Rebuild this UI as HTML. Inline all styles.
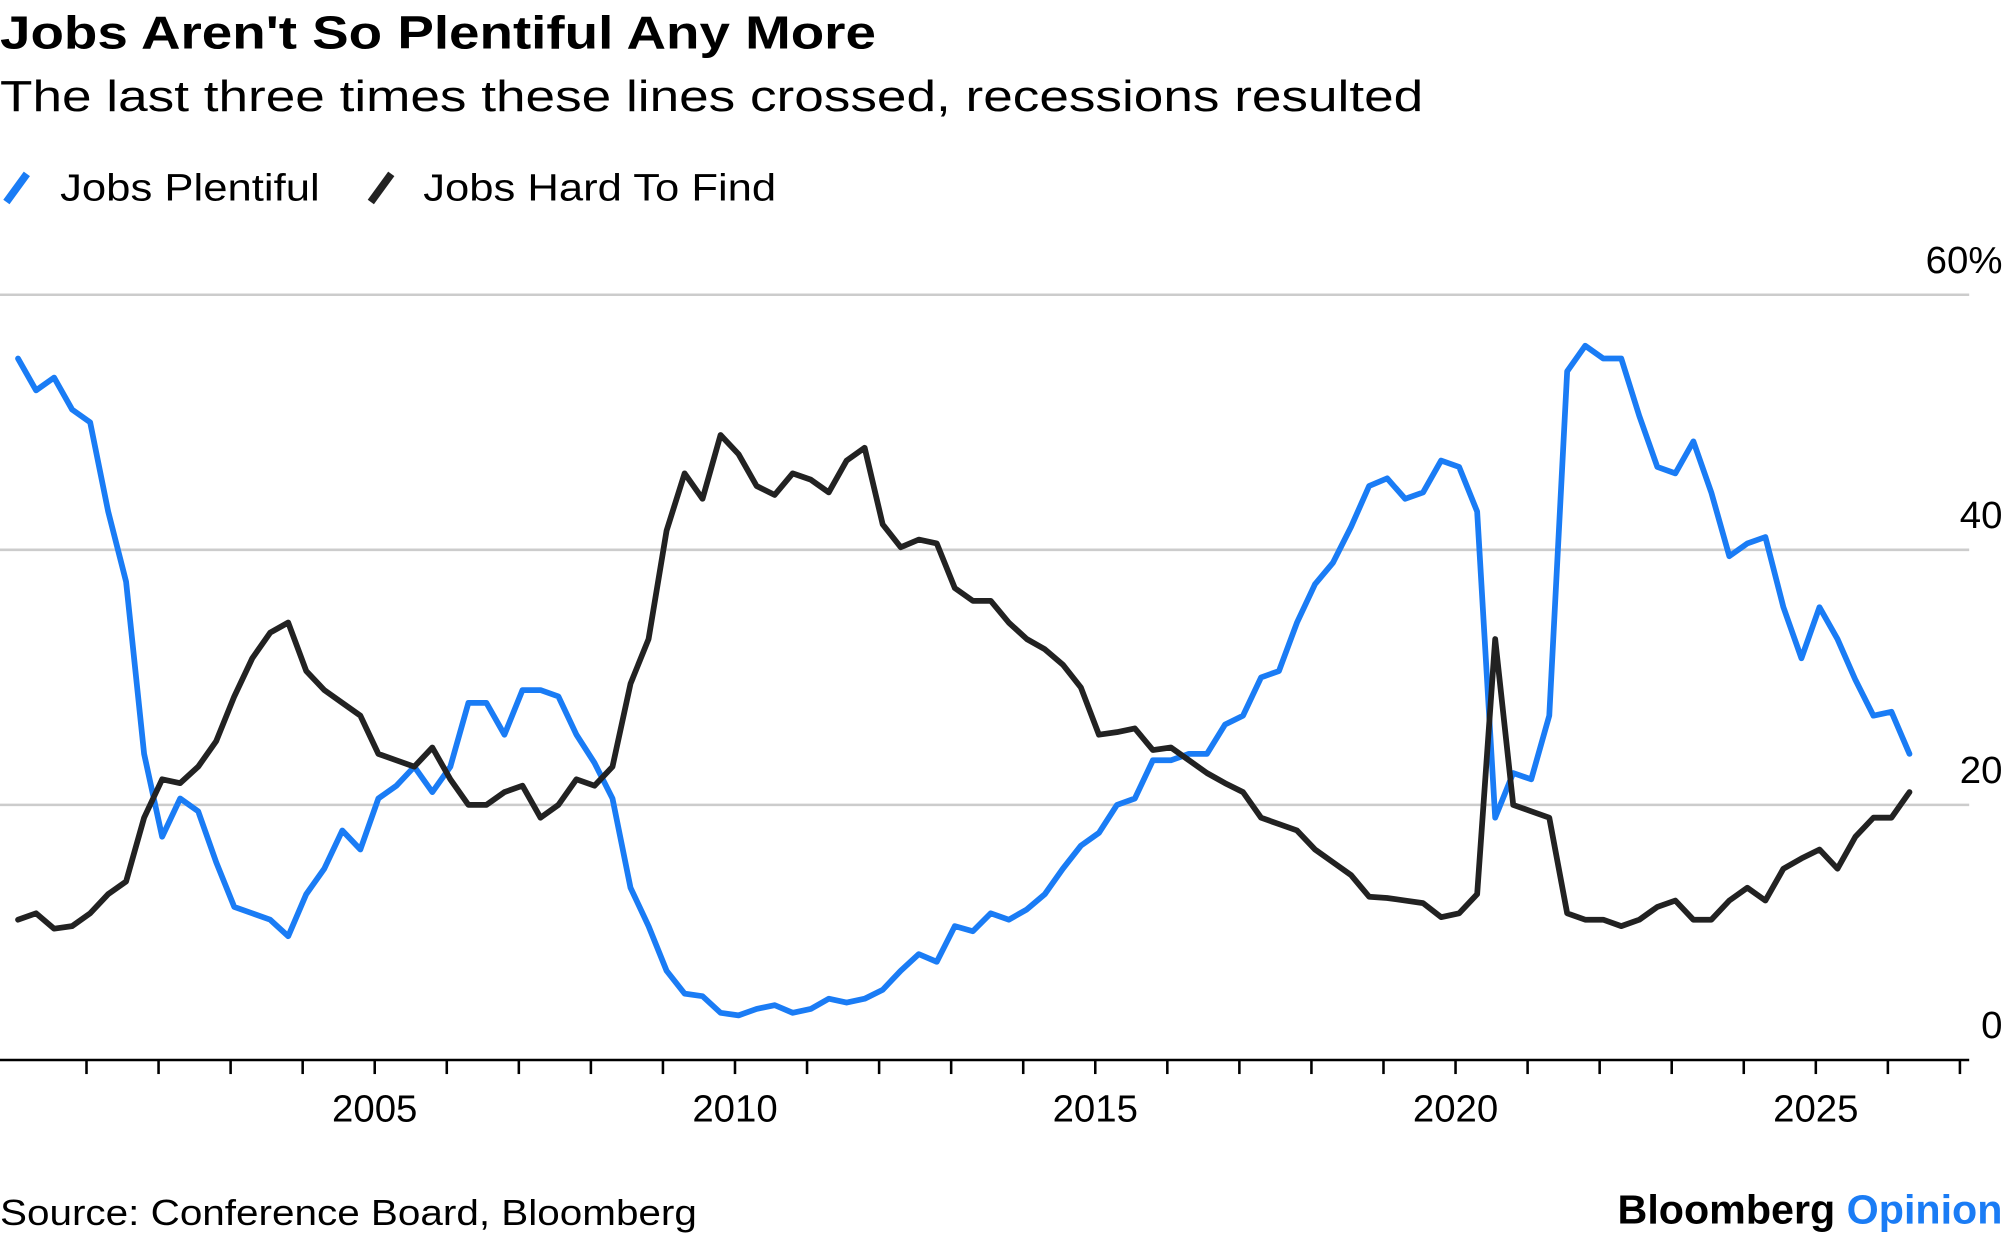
<!DOCTYPE html>
<html>
<head>
<meta charset="utf-8">
<style>
html,body{margin:0;padding:0;background:#fff;}
svg{display:block;}
text{font-family:"Liberation Sans",Arial,sans-serif;}
</style>
</head>
<body>
<svg id="chart" width="2005" height="1239" viewBox="0 0 1568 969" preserveAspectRatio="none" xmlns="http://www.w3.org/2000/svg">
  <text x="0" y="38" font-size="36" font-weight="bold" fill="#000" textLength="685" lengthAdjust="spacingAndGlyphs">Jobs Aren't So Plentiful Any More</text>
  <text x="0" y="87" font-size="34" fill="#000" textLength="1113" lengthAdjust="spacingAndGlyphs">The last three times these lines crossed, recessions resulted</text>
  <g>
    <g>
      <line x1="5" y1="158" x2="21" y2="136" stroke="#1a7cf5" stroke-width="6"/>
      <text x="47" y="157" font-size="30" fill="#000" textLength="203" lengthAdjust="spacingAndGlyphs">Jobs Plentiful</text>
    </g>
    <g>
      <line x1="290" y1="158" x2="306" y2="136" stroke="#222" stroke-width="6"/>
      <text x="331" y="157" font-size="30" fill="#000" textLength="276" lengthAdjust="spacingAndGlyphs">Jobs Hard To Find</text>
    </g>
  </g>
  <g id="grid"></g>
  <g id="yaxis"></g>
  <g id="xaxis"></g>
  <g id="series"></g>
  <text x="0" y="958" font-size="28" fill="#000" textLength="545" lengthAdjust="spacingAndGlyphs">Source: Conference Board, Bloomberg</text>
  <text x="1566" y="957" font-size="32" font-weight="bold" text-anchor="end" textLength="301" lengthAdjust="spacingAndGlyphs"><tspan fill="#000">Bloomberg </tspan><tspan fill="#1a7cf5">Opinion</tspan></text>
</svg>
<script>
const startYear = 2000.05;
const stepYears = 0.25;
const jobsPlentiful = [55,52.5,53.5,51,50,43,37.5,24,17.5,20.5,19.5,15.5,12,11.5,11,9.7,13,15,18,16.5,
20.5,21.5,23,21,23,28,28,25.5,29,29,28.5,25.5,23.3,20.5,13.5,10.5,7,5.2,5,3.7,
3.5,4,4.3,3.7,4,4.8,4.5,4.8,5.5,7,8.3,7.7,10.5,10.1,11.5,11,11.8,13,15,16.8,
17.8,20,20.5,23.5,23.5,24,24,26.3,27,30,30.5,34.3,37.3,39,41.8,45,45.6,44,44.5,47,
46.5,43,19,22.5,22,27,54,56,55,55,50.5,46.5,46,48.5,44.5,39.5,40.5,41,35.5,31.5,
35.5,33,29.8,27,27.3,24];
const jobsHardToFind = [11,11.5,10.3,10.5,11.5,13,14,19,22,21.7,23,25,28.5,31.5,33.5,34.3,30.5,29,28,27,
24,23.5,23,24.5,22,20,20,21,21.5,19,20,22,21.5,23,29.5,33,41.5,46,44,49,
47.5,45,44.3,46,45.5,44.5,47,48,42,40.2,40.8,40.5,37,36,36,34.3,33,32.2,31,29.2,
25.5,25.7,26,24.3,24.5,23.5,22.5,21.7,21,19,18.5,18,16.5,15.5,14.5,12.8,12.7,12.5,12.3,11.2,
11.5,13,33,20,19.5,19,11.5,11,11,10.5,11,12,12.5,11,11,12.5,13.5,12.5,15,15.8,
16.5,15,17.5,19,19,21];
const yTicks = [0,20,40,60];
const yTickLabels = ["0","20","40","60%"];
const xLabelYears = [2005,2010,2015,2020,2025];
const xTickYears = [];
for (let y = 2001; y <= 2027; y++) xTickYears.push(y);

const NS = "http://www.w3.org/2000/svg";
const X0 = 11.3, PX_PER_YEAR = 56.35;
const Y0 = 829, PX_PER_UNIT = 9.975;
function xScale(year){ return X0 + (year - 2000) * PX_PER_YEAR; }
function yScale(v){ return Y0 - v * PX_PER_UNIT; }
function mk(tag, attrs, parent){
  const el = document.createElementNS(NS, tag);
  for (const k in attrs) el.setAttribute(k, attrs[k]);
  parent.appendChild(el);
  return el;
}
const grid = document.getElementById('grid');
const yaxis = document.getElementById('yaxis');
const xaxis = document.getElementById('xaxis');
const series = document.getElementById('series');

yTicks.forEach((v, i) => {
  if (v > 0) {
    const gl = mk('line', {x1:0, x2:1540, y1:yScale(v), y2:yScale(v), stroke:'#cccccc', 'stroke-width':2}, grid);
    
    
  }
  const t = mk('text', {x:1566, y:yScale(v) - 17, 'font-size':30, 'text-anchor':'end', fill:'#000'}, yaxis);
  t.textContent = yTickLabels[i];
  
  
});

const axisLine = mk('line', {x1:0, x2:1540, y1:Y0, y2:Y0, stroke:'#000', 'stroke-width':2}, xaxis);


xTickYears.forEach(y => {
  const tk = mk('line', {x1:xScale(y), x2:xScale(y), y1:Y0, y2:Y0 + 11, stroke:'#000', 'stroke-width':2}, xaxis);
  
  
});
xLabelYears.forEach(y => {
  const t = mk('text', {x:xScale(y), y:877, 'font-size':30, 'text-anchor':'middle', fill:'#000'}, xaxis);
  t.textContent = String(y);
  
  
});

function drawLine(values, color, name){
  const pts = values.map((v, i) => xScale(startYear + i * stepYears).toFixed(1) + ',' + yScale(v).toFixed(1)).join(' ');
  const pl = mk('polyline', {points:pts, fill:'none', stroke:color, 'stroke-width':4.5, 'stroke-linejoin':'round', 'stroke-linecap':'round'}, series);
  
  
}
drawLine(jobsPlentiful, '#1a7cf5', 'line-jobs-plentiful');
drawLine(jobsHardToFind, '#222222', 'line-jobs-hard-to-find');
</script>
</body>
</html>
